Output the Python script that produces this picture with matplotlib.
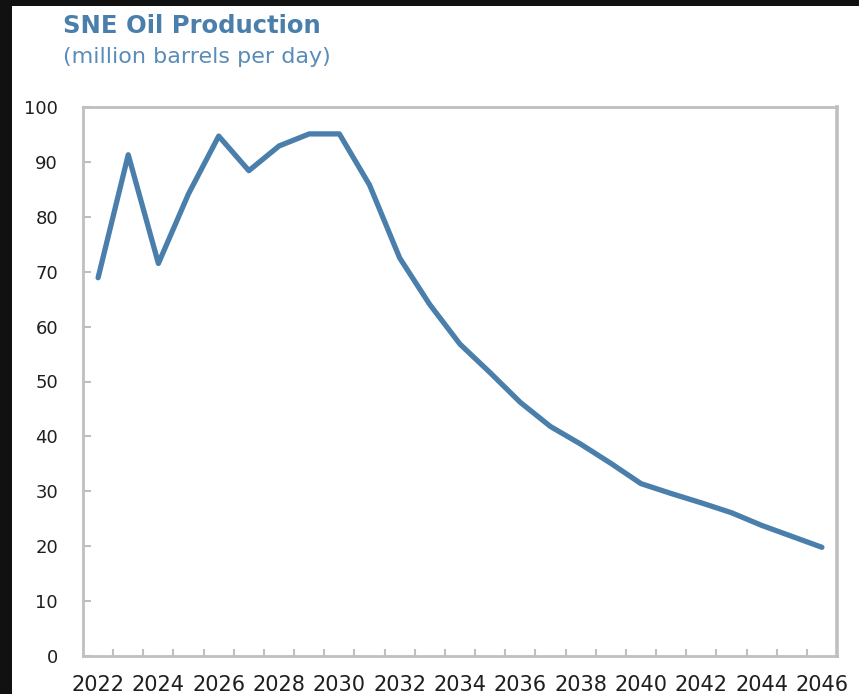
import matplotlib.pyplot as plt
from matplotlib.patches import Rectangle

# data
years = list(range(2022, 2047))
production = [68.9, 91.3, 71.5, 84.2, 94.7, 88.4, 92.9, 95.1, 95.1, 85.8,
              72.5, 64.0, 56.8, 51.6, 46.2, 41.8, 38.6, 35.1, 31.4, 29.6,
              27.9, 26.1, 23.8, 21.8, 19.8]
label_years = list(range(2022, 2047, 2))
y_ticks = list(range(0, 101, 10))

blue = '#4a7eab'
grey = '#bfbfbf'
txt = '#1f1f1f'

fig = plt.figure(figsize=(8.59, 6.94), dpi=100, facecolor='#111111')
# white panel inside the dark frame
fig.patches.append(Rectangle((12 / 859, 0), 1, 1 - 6 / 694, transform=fig.transFigure,
                             facecolor='white', edgecolor='none', zorder=-5))

ax = fig.add_axes([83 / 859, 1 - 656 / 694, (837 - 83) / 859, (656 - 107) / 694])
ax.set_facecolor('white')

ax.plot(years, production, color=blue, lw=3.8, solid_joinstyle='round',
        solid_capstyle='round', clip_on=False)

ax.set_xlim(2021.5, 2046.5)
ax.set_ylim(0, 100)

ax.set_xticks(label_years)
ax.set_xticks([y + 0.5 for y in years[:-1]], minor=True)
ax.set_yticks(y_ticks)

ax.tick_params(axis='x', which='major', length=0, pad=14, labelsize=15, labelcolor=txt)
ax.tick_params(axis='x', which='minor', direction='in', length=5, width=1.5, color=grey)
ax.tick_params(axis='y', direction='in', length=6, width=1.5, color=grey, pad=18,
               labelsize=13, labelcolor=txt)

for s in ax.spines.values():
    s.set_color(grey)
    s.set_linewidth(2)
ax.spines['right'].set_linewidth(2.6)

fig.text(63 / 859, 1 - 33 / 694, 'SNE Oil Production', fontsize=17.5, fontweight='bold',
         color=blue, va='baseline', ha='left')
fig.text(63 / 859, 1 - 63 / 694, '(million barrels per day)', fontsize=16,
         color='#5a8cb8', va='baseline', ha='left')

fig.savefig('out.png', dpi=100, facecolor=fig.get_facecolor())
